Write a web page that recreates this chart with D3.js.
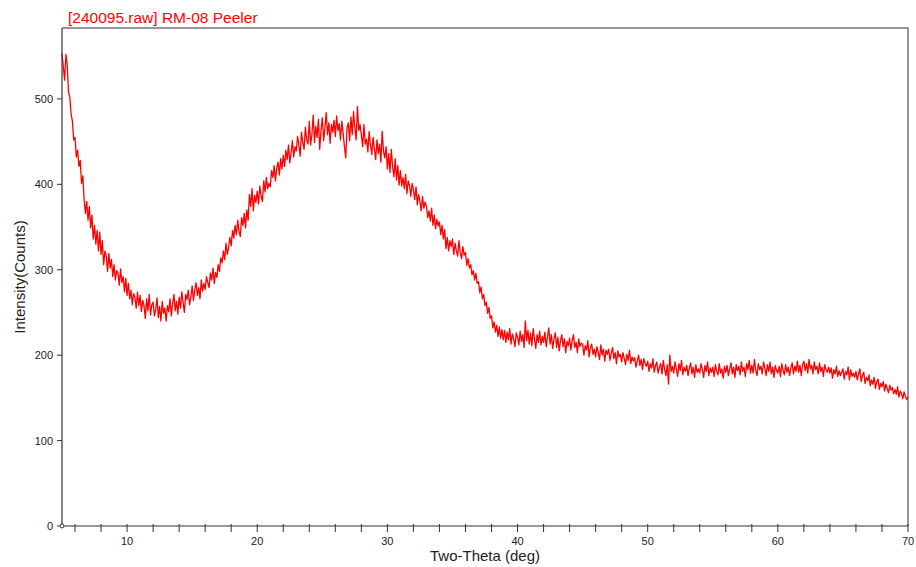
<!DOCTYPE html>
<html>
<head>
<meta charset="utf-8">
<title>RM-08 Peeler</title>
<script src="https://d3js.org/d3.v7.min.js"></script>
<style>
  body { margin: 0; background: #fff; }
  text { font-family: "Liberation Sans", Arial, sans-serif; }
</style>
</head>
<body>
<div id="chart"></div>
<script>
// scan start / step (deg two-theta)
const thetaStart = 5.0;
const thetaStep = 0.1;

// intensity (counts), one row per degree
const counts = [
  553, 538, 522, 552, 540, 508, 502, 482, 474, 452,   // 5
  455, 432, 440, 421, 428, 401, 410, 382, 366, 380,   // 6
  358, 374, 349, 364, 336, 352, 330, 346, 322, 344,   // 7
  318, 334, 306, 322, 316, 298, 319, 302, 312, 292,   // 8
  306, 288, 299, 296, 282, 301, 285, 292, 274, 290,   // 9
  270, 284, 266, 276, 259, 272, 268, 255, 274, 258,   // 10
  270, 251, 264, 258, 243, 266, 252, 271, 247, 259,   // 11
  262, 246, 253, 267, 244, 257, 240, 263, 249, 255,   // 12
  240, 258, 251, 266, 246, 260, 271, 252, 263, 248,   // 13
  268, 255, 274, 262, 250, 271, 265, 276, 259, 268,   // 14
  281, 264, 276, 285, 270, 279, 266, 288, 275, 284,   // 15
  277, 292, 285, 279, 296, 288, 302, 284, 297, 291,   // 16
  306, 298, 314, 308, 322, 312, 331, 318, 326, 338,   // 17
  328, 346, 337, 352, 341, 358, 345, 339, 361, 352,   // 18
  366, 349, 370, 358, 388, 374, 395, 369, 387, 379,   // 19
  392, 377, 398, 386, 380, 404, 391, 408, 395, 401,   // 20
  397, 416, 408, 422, 404, 419, 426, 411, 430, 418,   // 21
  434, 421, 440, 429, 446, 425, 437, 451, 432, 444,   // 22
  439, 456, 446, 433, 461, 449, 441, 467, 452, 447,   // 23
  474, 446, 458, 481, 449, 468, 455, 476, 441, 463,   // 24
  478, 451, 466, 484, 458, 472, 448, 470, 461, 475,   // 25
  456, 480, 463, 471, 452, 474, 460, 444, 431, 466,   // 26
  472, 451, 479, 458, 485, 466, 452, 491, 463, 470,   // 27
  458, 444, 470, 447, 453, 438, 462, 446, 435, 455,   // 28
  441, 429, 452, 436, 447, 426, 462, 439, 431, 444,   // 29
  418, 436, 414, 441, 421, 409, 430, 405, 422, 399,   // 30
  416, 398, 408, 395, 412, 389, 404, 399, 386, 401,   // 31
  394, 382, 397, 376, 388, 380, 369, 386, 372, 379,   // 32
  374, 361, 369, 357, 372, 352, 364, 348, 359, 351,   // 33
  356, 341, 352, 336, 347, 325, 338, 322, 334, 327,   // 34
  336, 318, 331, 322, 316, 334, 320, 313, 327, 317,   // 35
  320, 305, 313, 302, 306, 294, 299, 288, 296, 284,   // 36
  286, 273, 280, 266, 271, 258, 262, 249, 256, 243,   // 37
  246, 232, 239, 227, 235, 222, 233, 220, 230, 218,   // 38
  229, 215, 227, 218, 231, 213, 225, 219, 210, 226,   // 39
  221, 212, 228, 216, 224, 209, 240, 217, 229, 213,   // 40
  226, 211, 231, 219, 208, 224, 215, 228, 212, 222,   // 41
  215, 227, 210, 221, 232, 213, 224, 208, 219, 226,   // 42
  209, 221, 205, 217, 224, 210, 219, 203, 216, 211,   // 43
  220, 206, 217, 224, 209, 215, 203, 219, 210, 214,   // 44
  213, 200, 211, 206, 217, 198, 209, 213, 201, 207,   // 45
  198, 210, 203, 195, 212, 200, 207, 193, 206, 201,   // 46
  207, 194, 202, 209, 196, 203, 190, 205, 198, 201,   // 47
  192, 203, 196, 189, 201, 194, 206, 190, 198, 193,   // 48
  197, 186, 193, 200, 188, 195, 183, 196, 190, 187,   // 49
  193, 181, 190, 185, 196, 180, 188, 192, 179, 186,   // 50
  190, 178, 194, 183, 176, 189, 166, 200, 181, 187,   // 51
  179, 192, 184, 175, 190, 182, 194, 177, 186, 181,   // 52
  188, 176, 185, 191, 178, 186, 174, 189, 180, 184,   // 53
  179, 190, 183, 174, 188, 181, 192, 176, 185, 180,   // 54
  186, 175, 189, 181, 177, 190, 179, 184, 173, 187,   // 55
  180, 188, 176, 184, 191, 178, 186, 174, 189, 182,   // 56
  187, 177, 192, 181, 186, 175, 190, 183, 194, 179,   // 57
  188, 179, 195, 182, 176, 190, 183, 187, 178, 192,   // 58
  185, 176, 189, 181, 192, 178, 186, 174, 188, 182,   // 59
  179, 187, 175, 190, 182, 177, 189, 180, 186, 176,   // 60
  185, 191, 178, 187, 181, 193, 180, 188, 176, 189,   // 61
  193, 182, 190, 179, 195, 184, 188, 178, 192, 183,   // 62
  187, 178, 191, 181, 186, 175, 189, 183, 180, 186,   // 63
  179, 185, 173, 183, 178, 187, 175, 182, 176, 180,   // 64
  184, 172, 181, 177, 186, 171, 183, 175, 179, 174,   // 65
  181, 171, 178, 184, 169, 176, 180, 167, 174, 170,   // 66
  177, 164, 171, 166, 174, 161, 169, 172, 160, 167,   // 67
  163, 169, 158, 166, 161, 156, 165, 159, 162, 155,   // 68
  160, 154, 163, 151, 158, 155, 149, 157, 152, 148,   // 69
  151                                                 // 70
];

const xTicks = [10, 20, 30, 40, 50, 60, 70];
const xMinorTicks = [6, 8, 10, 12, 14, 16, 18, 20, 22, 24, 26, 28, 30, 32, 34, 36, 38, 40,
                     42, 44, 46, 48, 50, 52, 54, 56, 58, 60, 62, 64, 66, 68, 70];
const yTicks = [0, 100, 200, 300, 400, 500];

const title = "[240095.raw] RM-08 Peeler";
const xLabel = "Two-Theta (deg)";
const yLabel = "Intensity(Counts)";

const W = 916, H = 567;
const mLeft = 62, mRight = 908, mTop = 28, mBottom = 526;

const data = counts.map((c, i) => ({ tt: thetaStart + i * thetaStep, c: c }));

const x = d3.scaleLinear().domain([5, 70]).range([mLeft, mRight]);
const y = d3.scaleLinear().domain([0, 583]).range([mBottom, mTop]);

const svg = d3.select("#chart").append("svg")
    .attr("width", W)
    .attr("height", H);

// frame (top + right)
svg.append("path")
    .attr("d", `M${mLeft},${mTop}H${mRight}V${mBottom}`)
    .attr("fill", "none")
    .attr("stroke", "#777")
    .attr("stroke-width", 1.5);

// the scan
svg.append("path")
    .datum(data)
    .attr("fill", "none")
    .attr("stroke", "#ff0000")
    .attr("stroke-width", 1.3)
    .attr("stroke-linejoin", "round")
    .attr("d", d3.line().x(d => x(d.tt)).y(d => y(d.c)));

// x axis
const gx = svg.append("g").attr("transform", `translate(0,${mBottom})`);
gx.append("line")
    .attr("x1", mLeft).attr("x2", mRight)
    .attr("stroke", "#333").attr("stroke-width", 1.2);
gx.selectAll("line.tk").data(xMinorTicks).join("line")
    .attr("class", "tk")
    .attr("x1", d => x(d)).attr("x2", d => x(d))
    .attr("y1", -2).attr("y2", 6)
    .attr("stroke", "#333").attr("stroke-width", 1);
gx.selectAll("text").data(xTicks).join("text")
    .attr("x", d => x(d))
    .attr("y", 19)
    .attr("text-anchor", "middle")
    .attr("font-size", 11)
    .attr("fill", "#222")
    .text(d => d);

// y axis
const gy = svg.append("g").attr("transform", `translate(${mLeft},0)`);
gy.append("line")
    .attr("y1", mTop).attr("y2", mBottom)
    .attr("stroke", "#333").attr("stroke-width", 1.2);
gy.selectAll("line.tk").data(yTicks).join("line")
    .attr("class", "tk")
    .attr("x1", -5).attr("x2", 0)
    .attr("y1", d => y(d)).attr("y2", d => y(d))
    .attr("stroke", "#333").attr("stroke-width", 1);
gy.selectAll("text").data(yTicks).join("text")
    .attr("x", -9)
    .attr("y", d => y(d) + 4)
    .attr("text-anchor", "end")
    .attr("font-size", 11)
    .attr("fill", "#222")
    .text(d => d);

// little origin marker
svg.append("circle")
    .attr("cx", mLeft).attr("cy", mBottom).attr("r", 2)
    .attr("fill", "#fff").attr("stroke", "#333").attr("stroke-width", 1);

// labels
svg.append("text")
    .attr("x", 68).attr("y", 23)
    .attr("font-size", 15.5)
    .attr("fill", "#ff0000")
    .text(title);

svg.append("text")
    .attr("x", (mLeft + mRight) / 2).attr("y", 561)
    .attr("text-anchor", "middle")
    .attr("font-size", 15)
    .attr("fill", "#222")
    .text(xLabel);

svg.append("text")
    .attr("transform", `translate(25,${(mTop + mBottom) / 2}) rotate(-90)`)
    .attr("text-anchor", "middle")
    .attr("font-size", 15)
    .attr("fill", "#222")
    .text(yLabel);
</script>
</body>
</html>
